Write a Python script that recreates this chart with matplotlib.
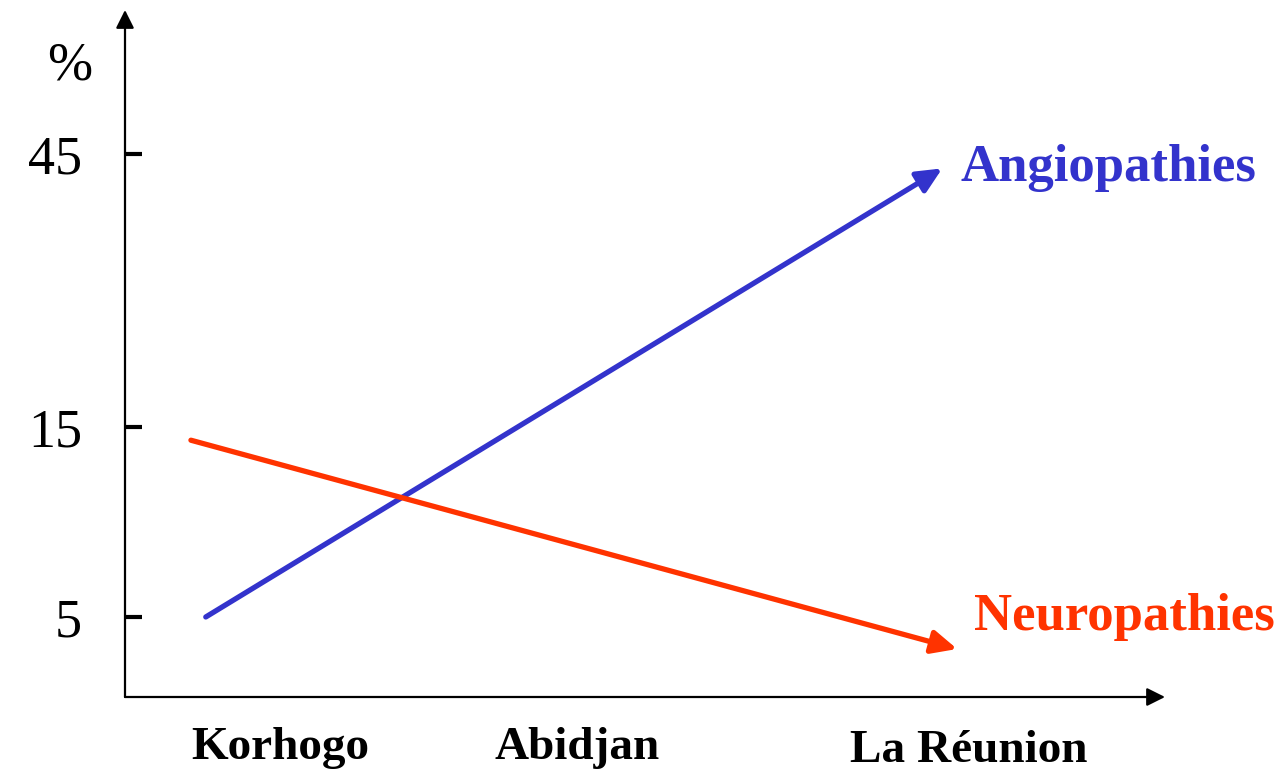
"""
Angiopathies vs neuropathies across sites (schematic trend chart)
"""

import numpy as np
import matplotlib.pyplot as plt

# Data
sites = ['Korhogo', 'Abidjan', 'La Réunion']
site_x = [0.0, 1.0, 2.32]
y_ticks = [5, 15, 45]

angio_x = [-0.25, 2.23]
angio_y = [5.0, 43.4]
neuro_x = [-0.30, 2.28]
neuro_y = [14.3, 3.0]

BLUE = '#3333CC'
RED = '#FF3300'

# The y axis is not linear: 5, 15 and 45 sit at uneven heights.
# Piecewise-linear scale through those anchors (pixel height above the x axis).
anchor_vals = [0, 5, 15, 45, 70]
anchor_pos = [0, 80, 270, 543, 770.5]


def fwd(v):
    return np.interp(v, anchor_vals, anchor_pos)


def inv(p):
    return np.interp(p, anchor_pos, anchor_vals)


plt.rcParams['font.family'] = ['Liberation Serif', 'DejaVu Serif']

fig = plt.figure(figsize=(12.85, 7.73), dpi=100)
ax = fig.add_axes([125 / 1285, 76 / 773, 1040 / 1285, 687 / 773])
ax.set_yscale('function', functions=(fwd, inv))
ax.set_xlim(-0.522, 2.98)
ax.set_ylim(0, 60.8)

for s in ax.spines.values():
    s.set_visible(False)

# axes drawn as arrows
axis_arrow = dict(arrowstyle='-|>,head_length=1.1,head_width=0.55',
                  mutation_scale=10, lw=1.6, color='black',
                  shrinkA=0, shrinkB=0)
ax.annotate('', xy=(1, 0), xytext=(0, 0), xycoords='axes fraction',
            arrowprops=axis_arrow, annotation_clip=False)
ax.annotate('', xy=(0, 1), xytext=(0, 0), xycoords='axes fraction',
            arrowprops=axis_arrow, annotation_clip=False)

ax.set_yticks(y_ticks)
ax.set_yticklabels([str(t) for t in y_ticks])
ax.minorticks_off()
ax.tick_params(axis='y', direction='in', length=12, width=3, pad=31,
               labelsize=39)
ax.set_xticks([])

ax.text(-0.053, 0.918, '%', transform=ax.transAxes, fontsize=39,
        ha='center', va='center')

# site labels below the x axis (La Réunion sits a bit lower)
label_drop = [0, 0, 3]
for name, x, drop in zip(sites, site_x, label_drop):
    ax.annotate(name, xy=(x, 0), xycoords=('data', 'axes fraction'),
                xytext=(0, -30 - drop), textcoords='offset pixels',
                ha='center', va='top', fontsize=34, fontweight='bold',
                annotation_clip=False)

# the two trend arrows
series = [
    ('Angiopathies', angio_x, angio_y, BLUE, (18, 0)),
    ('Neuropathies', neuro_x, neuro_y, RED, (17, 32)),
]
for name, xs, ys, color, off in series:
    ax.annotate('', xy=(xs[1], ys[1]), xytext=(xs[0], ys[0]),
                arrowprops=dict(arrowstyle='-|>,head_length=0.75,head_width=0.35',
                                mutation_scale=20, lw=3.8, color=color,
                                shrinkA=0, shrinkB=0),
                annotation_clip=False)
    ax.annotate(name, xy=(xs[1], ys[1]), xytext=off,
                textcoords='offset pixels', ha='left', va='center',
                fontsize=38, fontweight='bold', color=color,
                annotation_clip=False)

fig.savefig('out.png', dpi=100)
